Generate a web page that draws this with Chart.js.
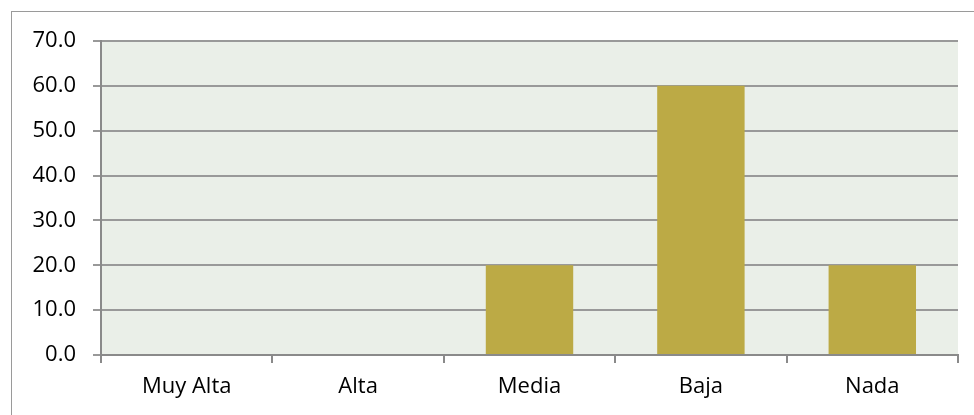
<!DOCTYPE html>
<html>
<head>
<meta charset="utf-8">
<script src="https://cdn.jsdelivr.net/npm/chart.js@4"></script>
<style>
  html,body{margin:0;padding:0;background:#fff}
  #wrap{position:relative;width:974px;height:415px;overflow:hidden}
  #frame{position:absolute;left:11px;top:11px;width:1000px;height:500px;border:1.5px solid #9a9a9a;box-sizing:border-box}
  canvas{position:absolute;left:0;top:0}
</style>
</head>
<body>
<div id="wrap">
  <div id="frame"></div>
  <canvas id="c" width="974" height="415"></canvas>
</div>
<script>
  // categories and values
  const categories = ['Muy Alta', 'Alta', 'Media', 'Baja', 'Nada'];
  const values = [0, 0, 20, 60, 20];
  const yMin = 0, yMax = 70, yStep = 10;

  const axisGray = '#8a8a8a';
  const font = { family: 'Open Sans', size: 22 };

  // paint the plot area background
  const plotBg = {
    id: 'plotBg',
    beforeDraw(chart){
      const a = chart.chartArea, ctx = chart.ctx;
      ctx.save();
      ctx.fillStyle = '#eaefe8';
      ctx.fillRect(a.left, a.top, a.right - a.left, a.bottom - a.top);
      ctx.restore();
    }
  };

  new Chart(document.getElementById('c').getContext('2d'), {
    type: 'bar',
    data: {
      labels: categories,
      datasets: [{ data: values, backgroundColor: '#bcaa45', barPercentage: 0.51, categoryPercentage: 1.0 }]
    },
    options: {
      responsive: false,
      animation: false,
      layout: { padding: { top: 41, right: 16, left: 0, bottom: 0 } },
      plugins: { legend: { display: false }, tooltip: { enabled: false } },
      scales: {
        x: {
          grid: { drawOnChartArea: false, color: axisGray, lineWidth: 2, tickLength: 8, offset: true },
          border: { color: axisGray, width: 2 },
          ticks: { color: '#000', font, padding: 11 },
          afterFit(s){ s.height = 415 - 355; }
        },
        y: {
          min: yMin, max: yMax,
          grid: { color: '#999', lineWidth: 2, tickLength: 8 },
          border: { color: axisGray, width: 2 },
          ticks: { stepSize: yStep, color: '#000', font, padding: 17,
                   callback: v => v.toFixed(1) },
          afterFit(s){ s.width = 101; }
        }
      }
    },
    plugins: [plotBg]
  });
</script>
</body>
</html>
